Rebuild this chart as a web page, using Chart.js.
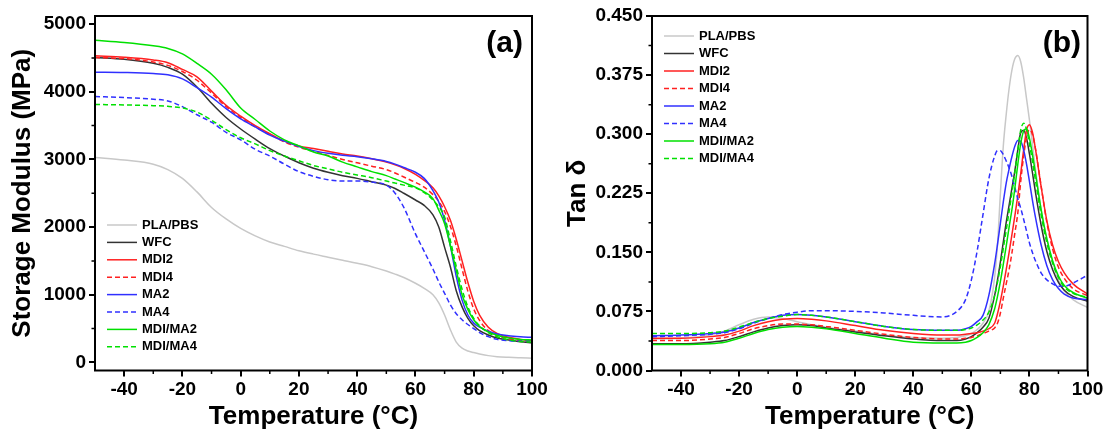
<!DOCTYPE html>
<html>
<head>
<meta charset="utf-8">
<script src="https://cdn.jsdelivr.net/npm/chart.js@4.4.1/dist/chart.umd.js"></script>
<style>
  html, body { margin: 0; padding: 0; background: #fff; }
  #wrap { position: relative; width: 1109px; height: 430px; }
  canvas { position: absolute; top: 0; }
  #modulusChart { left: 0; }
  #tanChart { left: 555px; }
</style>
</head>
<body>
<div id="wrap">
  <canvas id="modulusChart" width="555" height="430"></canvas>
  <canvas id="tanChart" width="554" height="430"></canvas>
</div>
<script>
const seriesNames = ["PLA/PBS", "WFC", "MDI2", "MDI4", "MA2", "MA4", "MDI/MA2", "MDI/MA4"]
const seriesColors = ["#c8c8c8", "#333333", "#ff2020", "#ff2020", "#3030ff", "#3030ff", "#00e000", "#00e000"]
const seriesDashed = [false, false, false, true, false, true, false, true]

// (a) storage modulus, MPa
const tempA = [-50, -40, -30, -25, -20, -15, -10, -5, 0, 5, 10, 15, 20, 25, 30, 35, 40, 45, 50, 53, 56, 60, 63, 66, 68, 70, 72, 74, 76, 78, 80, 82, 85, 88, 92, 96, 100]
const modPlaPbs = [3030, 2990, 2930, 2850, 2720, 2520, 2290, 2120, 1980, 1870, 1780, 1715, 1650, 1600, 1555, 1510, 1465, 1415, 1350, 1305, 1255, 1170, 1095, 1000, 880, 700, 480, 300, 210, 168, 145, 125, 100, 85, 75, 68, 62]
const modWfc = [4507, 4480, 4420, 4360, 4260, 4070, 3830, 3620, 3450, 3300, 3160, 3050, 2950, 2870, 2810, 2760, 2720, 2670, 2620, 2570, 2500, 2400, 2320, 2180, 2000, 1700, 1410, 1060, 820, 650, 540, 470, 405, 360, 330, 305, 290]
const modMdi2 = [4531, 4510, 4470, 4430, 4330, 4220, 4010, 3800, 3640, 3500, 3380, 3270, 3200, 3160, 3120, 3080, 3050, 3010, 2960, 2920, 2870, 2780, 2690, 2580, 2460, 2300, 2100, 1820, 1500, 1180, 900, 700, 520, 430, 370, 340, 320]
const modMdi4 = [4507, 4490, 4440, 4390, 4300, 4170, 3980, 3780, 3620, 3480, 3370, 3260, 3180, 3120, 3060, 3000, 2950, 2900, 2850, 2800, 2740, 2660, 2590, 2480, 2380, 2230, 2010, 1720, 1380, 1050, 790, 620, 470, 400, 350, 325, 310]
const modMa2 = [4290, 4285, 4270, 4250, 4190, 4060, 3920, 3750, 3600, 3480, 3360, 3270, 3190, 3130, 3090, 3060, 3040, 3010, 2970, 2930, 2880, 2810, 2720, 2540, 2370, 2100, 1720, 1270, 920, 700, 580, 520, 460, 420, 395, 380, 370]
const modMa4 = [3930, 3915, 3890, 3865, 3780, 3660, 3550, 3400, 3290, 3150, 3050, 2930, 2820, 2750, 2700, 2680, 2680, 2665, 2620, 2500, 2290, 1900, 1640, 1380, 1190, 1020, 850, 720, 630, 560, 500, 440, 380, 340, 322, 316, 316]
const modMdiMa2 = [4762, 4730, 4680, 4640, 4560, 4420, 4260, 4030, 3760, 3590, 3420, 3290, 3200, 3110, 3050, 2960, 2890, 2820, 2760, 2710, 2660, 2590, 2520, 2420, 2250, 2050, 1720, 1360, 1000, 780, 630, 530, 450, 400, 360, 340, 330]
const modMdiMa4 = [3812, 3805, 3795, 3785, 3760, 3700, 3580, 3440, 3320, 3230, 3130, 3050, 2980, 2910, 2860, 2810, 2770, 2730, 2680, 2650, 2620, 2580, 2510, 2400, 2300, 2150, 1800, 1420, 1080, 820, 650, 540, 440, 380, 330, 310, 300]

// (b) tan delta
const tempB = [-50, -40, -30, -25, -20, -15, -10, -5, 0, 5, 10, 20, 30, 40, 50, 55, 58, 60, 62, 64, 66, 68, 69, 70, 71, 72, 73, 74, 75, 76, 77, 78, 79, 80, 81, 82, 84, 86, 88, 90, 92, 95, 100]
const tanPlaPbs = [0.040, 0.041, 0.045, 0.050, 0.058, 0.065, 0.068, 0.066, 0.062, 0.058, 0.055, 0.050, 0.045, 0.042, 0.041, 0.042, 0.044, 0.047, 0.052, 0.060, 0.075, 0.118, 0.160, 0.225, 0.285, 0.325, 0.358, 0.382, 0.396, 0.400, 0.392, 0.372, 0.345, 0.318, 0.288, 0.258, 0.205, 0.168, 0.138, 0.115, 0.101, 0.090, 0.080]
const tanWfc = [0.034, 0.034, 0.036, 0.038, 0.043, 0.049, 0.054, 0.057, 0.058, 0.057, 0.054, 0.049, 0.044, 0.040, 0.038, 0.038, 0.040, 0.043, 0.048, 0.055, 0.066, 0.095, 0.115, 0.138, 0.163, 0.188, 0.210, 0.232, 0.254, 0.280, 0.302, 0.305, 0.295, 0.275, 0.252, 0.228, 0.185, 0.151, 0.128, 0.112, 0.102, 0.094, 0.088]
const tanMdi2 = [0.041, 0.041, 0.043, 0.045, 0.050, 0.057, 0.062, 0.065, 0.066, 0.065, 0.063, 0.057, 0.051, 0.047, 0.045, 0.045, 0.046, 0.047, 0.048, 0.050, 0.053, 0.060, 0.072, 0.088, 0.107, 0.128, 0.150, 0.173, 0.197, 0.222, 0.250, 0.280, 0.305, 0.312, 0.303, 0.283, 0.234, 0.190, 0.159, 0.138, 0.124, 0.110, 0.097]
const tanMdi4 = [0.038, 0.038, 0.040, 0.042, 0.047, 0.053, 0.057, 0.059, 0.059, 0.058, 0.056, 0.051, 0.046, 0.042, 0.040, 0.040, 0.041, 0.042, 0.044, 0.047, 0.050, 0.054, 0.060, 0.073, 0.092, 0.110, 0.128, 0.150, 0.175, 0.200, 0.240, 0.272, 0.296, 0.306, 0.300, 0.283, 0.235, 0.188, 0.154, 0.131, 0.117, 0.104, 0.095]
const tanMa2 = [0.044, 0.045, 0.047, 0.049, 0.054, 0.061, 0.066, 0.070, 0.071, 0.070, 0.068, 0.062, 0.056, 0.052, 0.051, 0.051, 0.053, 0.056, 0.062, 0.070, 0.095, 0.135, 0.160, 0.187, 0.214, 0.238, 0.256, 0.272, 0.285, 0.292, 0.291, 0.280, 0.262, 0.240, 0.217, 0.196, 0.160, 0.133, 0.115, 0.104, 0.097, 0.092, 0.090]
const tanMa4 = [0.043, 0.044, 0.046, 0.048, 0.053, 0.060, 0.066, 0.071, 0.074, 0.076, 0.076, 0.075, 0.073, 0.070, 0.068, 0.075, 0.090, 0.115, 0.152, 0.198, 0.243, 0.272, 0.279, 0.279, 0.274, 0.266, 0.257, 0.246, 0.232, 0.218, 0.206, 0.192, 0.177, 0.162, 0.150, 0.140, 0.124, 0.115, 0.110, 0.107, 0.107, 0.111, 0.121]
const tanMdiMa2 = [0.033, 0.033, 0.034, 0.036, 0.041, 0.047, 0.052, 0.055, 0.056, 0.055, 0.053, 0.047, 0.041, 0.036, 0.035, 0.035, 0.036, 0.038, 0.042, 0.048, 0.058, 0.078, 0.094, 0.113, 0.135, 0.158, 0.182, 0.205, 0.232, 0.262, 0.288, 0.304, 0.307, 0.295, 0.275, 0.252, 0.205, 0.167, 0.139, 0.120, 0.108, 0.099, 0.092]
const tanMdiMa4 = [0.047, 0.047, 0.048, 0.050, 0.055, 0.061, 0.066, 0.069, 0.071, 0.070, 0.068, 0.062, 0.056, 0.052, 0.051, 0.051, 0.052, 0.054, 0.058, 0.064, 0.074, 0.095, 0.112, 0.132, 0.155, 0.178, 0.202, 0.226, 0.252, 0.280, 0.305, 0.314, 0.306, 0.288, 0.266, 0.243, 0.198, 0.162, 0.136, 0.118, 0.106, 0.098, 0.093]

// tick labels
const tempTicks = [-40, -20, 0, 20, 40, 60, 80, 100]
const tempMinor = [-30, -10, 10, 30, 50, 70, 90]
const modTicks = [0, 1000, 2000, 3000, 4000, 5000]
const modMinor = [500, 1500, 2500, 3500, 4500]
const tanTicks = [0, 0.075, 0.15, 0.225, 0.3, 0.375, 0.45]
const tanMinor = [0.0375, 0.1125, 0.1875, 0.2625, 0.3375, 0.4125]

const fontFamily = "'Liberation Sans', Arial, Helvetica, sans-serif"
Chart.defaults.font.family = fontFamily
Chart.defaults.color = "#000"

const framePlugin = {
  id: "frame",
  afterDraw(chart, args, opts) {
    const { ctx, chartArea: area, scales } = chart
    ctx.save()
    ctx.strokeStyle = "#000"
    ctx.lineWidth = 2
    ctx.strokeRect(area.left, area.top, area.right - area.left, area.bottom - area.top)

    // short minor ticks
    ctx.lineWidth = 1.5
    ctx.beginPath()
    opts.minorX.forEach((v) => {
      const px = scales.x.getPixelForValue(v)
      ctx.moveTo(px, area.bottom)
      ctx.lineTo(px, area.bottom + 3.5)
    })
    opts.minorY.forEach((v) => {
      const py = scales.y.getPixelForValue(v)
      ctx.moveTo(area.left, py)
      ctx.lineTo(area.left - 3.5, py)
    })
    ctx.stroke()

    ctx.fillStyle = "#000"
    ctx.font = "bold 30px " + fontFamily
    ctx.textAlign = "right"
    ctx.textBaseline = "middle"
    ctx.fillText(opts.label, opts.labelX, opts.labelY)
    ctx.restore()
  }
}

const legendPlugin = {
  id: "lineLegend",
  afterDraw(chart, args, opts) {
    const { ctx } = chart
    ctx.save()
    ctx.font = "bold 13px " + fontFamily
    ctx.textAlign = "left"
    ctx.textBaseline = "middle"
    chart.data.datasets.forEach((ds, i) => {
      const y = opts.top + i * opts.rowHeight
      ctx.strokeStyle = ds.borderColor
      ctx.lineWidth = ds.borderWidth
      ctx.setLineDash(ds.borderDash)
      ctx.beginPath()
      ctx.moveTo(opts.left, y)
      ctx.lineTo(opts.left + opts.lineLength, y)
      ctx.stroke()
      ctx.setLineDash([])
      ctx.fillStyle = "#000"
      ctx.fillText(ds.label, opts.left + opts.lineLength + 5, y)
    })
    ctx.restore()
  }
}

function buildDatasets(temps, seriesList) {
  return seriesList.map((values, i) => ({
    label: seriesNames[i],
    data: values.map((y, j) => ({ x: temps[j], y })),
    borderColor: seriesColors[i],
    borderDash: seriesDashed[i] ? [5, 3] : [],
    borderWidth: 1.5,
    pointRadius: 0,
    cubicInterpolationMode: "monotone",
    fill: false,
    order: seriesList.length - i
  }))
}

function axisGrid() {
  return { drawOnChartArea: false, drawTicks: true, tickLength: 6, color: "#000", lineWidth: 2 }
}

function makeChart(canvasId, cfg) {
  return new Chart(document.getElementById(canvasId), {
    type: "line",
    data: { datasets: buildDatasets(cfg.temps, cfg.series) },
    options: {
      responsive: false,
      animation: false,
      devicePixelRatio: 1,
      layout: { padding: { left: 0, top: 16, right: cfg.rightPad, bottom: 0 } },
      plugins: {
        legend: { display: false },
        tooltip: { enabled: false },
        frame: { minorX: tempMinor, minorY: cfg.minorY, label: cfg.label, labelX: cfg.labelX, labelY: 44 },
        lineLegend: cfg.legend
      },
      scales: {
        x: {
          type: "linear",
          min: -50,
          max: 100,
          afterBuildTicks: (s) => { s.ticks = tempTicks.map((value) => ({ value })) },
          afterFit: (s) => { s.height = 59.5; s.paddingLeft = 0; s.paddingRight = 0 },
          grid: axisGrid(),
          border: { display: false },
          ticks: { font: { size: 19, weight: "bold" }, padding: 2, maxRotation: 0, autoSkip: false },
          title: {
            display: true,
            text: "Temperature (°C)",
            font: { size: 26, weight: "bold", lineHeight: 1 },
            padding: { top: 0, bottom: 0 }
          }
        },
        y: {
          min: cfg.yMin,
          max: cfg.yMax,
          afterBuildTicks: (s) => { s.ticks = cfg.yTicks.map((value) => ({ value })) },
          afterFit: (s) => { s.width = cfg.yWidth; s.paddingTop = 0; s.paddingBottom = 0 },
          grid: axisGrid(),
          border: { display: false },
          ticks: { font: { size: 19, weight: "bold" }, padding: 3, autoSkip: false, callback: cfg.format },
          title: {
            display: true,
            text: cfg.yTitle,
            font: { size: 26, weight: "bold", lineHeight: 1 },
            padding: { top: 10, bottom: 0 }
          }
        }
      }
    },
    plugins: [framePlugin, legendPlugin]
  })
}

makeChart("modulusChart", {
  temps: tempA,
  series: [modPlaPbs, modWfc, modMdi2, modMdi4, modMa2, modMa4, modMdiMa2, modMdiMa4],
  yMin: -120,
  yMax: 5120,
  yTicks: modTicks,
  minorY: modMinor,
  format: (v) => String(v),
  yTitle: "Storage Modulus (MPa)",
  yWidth: 95,
  rightPad: 23,
  label: "(a)",
  labelX: 523,
  legend: { left: 107, top: 225, rowHeight: 17.4, lineLength: 30 }
})

makeChart("tanChart", {
  temps: tempB,
  series: [tanPlaPbs, tanWfc, tanMdi2, tanMdi4, tanMa2, tanMa4, tanMdiMa2, tanMdiMa4],
  yMin: 0,
  yMax: 0.45,
  yTicks: tanTicks,
  minorY: tanMinor,
  format: (v) => v.toFixed(3),
  yTitle: "Tan δ",
  yWidth: 97,
  rightPad: 21.5,
  label: "(b)",
  labelX: 526,
  legend: { left: 109, top: 36, rowHeight: 17.5, lineLength: 30 }
})
</script>
</body>
</html>
